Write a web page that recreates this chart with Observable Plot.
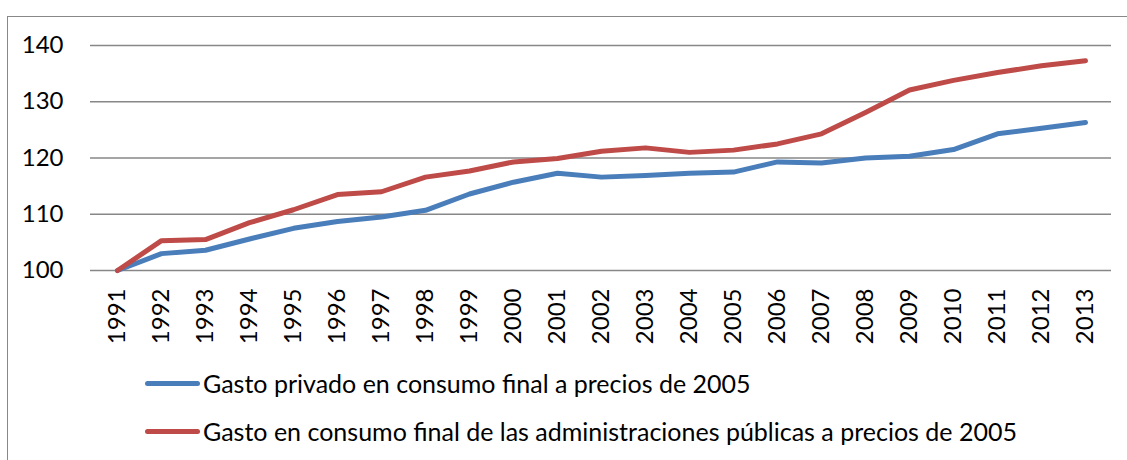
<!DOCTYPE html>
<html>
<head>
<meta charset="utf-8">
<script src="https://cdn.jsdelivr.net/npm/d3@7"></script>
<script src="https://cdn.jsdelivr.net/npm/@observablehq/plot@0.6"></script>
<style>
  html, body { margin: 0; padding: 0; background: #fff; }
  #wrap { position: relative; width: 1127px; height: 460px; overflow: hidden; font-family: Lato, "Open Sans", sans-serif; }
  #border { position: absolute; left: 7px; top: 16px; width: 1140px; height: 480px; border: 1.5px solid #888; box-sizing: border-box; }
  #chart { position: absolute; left: 0; top: 0; }
  #legend { position: absolute; left: 145px; top: 359px; }
  .item { display: flex; align-items: center; height: 48px; font-size: 25px; color: #000; }
  .sw { width: 55px; height: 5px; border-radius: 3px; margin-right: 3px; }
</style>
</head>
<body>
<div id="wrap">
  <div id="border"></div>
  <div id="chart"></div>
  <div id="legend"></div>
</div>
<script>
const years = ["1991","1992","1993","1994","1995","1996","1997","1998","1999","2000","2001","2002","2003","2004","2005","2006","2007","2008","2009","2010","2011","2012","2013"];
const privado = [100,103.0,103.6,105.6,107.5,108.7,109.5,110.7,113.6,115.7,117.3,116.6,116.9,117.3,117.5,119.3,119.1,120.0,120.3,121.5,124.3,125.3,126.3];
const publico = [100,105.3,105.5,108.5,110.8,113.5,114.0,116.6,117.7,119.3,119.9,121.2,121.8,121.0,121.4,122.5,124.3,128.1,132.1,133.8,135.2,136.4,137.3];
const seriesNames = ["Gasto privado en consumo final a precios de 2005", "Gasto en consumo final de las administraciones públicas a precios de 2005"];
const seriesColors = ["#4a7ebb", "#be4b48"];
const yTicks = [100,110,120,130,140];

const rows = [];
years.forEach((y, i) => {
  rows.push({year: y, value: privado[i], serie: seriesNames[0]});
  rows.push({year: y, value: publico[i], serie: seriesNames[1]});
});

const plot = Plot.plot({
  width: 1127,
  height: 345,
  marginLeft: 90,
  marginRight: 16,
  marginTop: 45,
  marginBottom: 75,
  style: {fontFamily: "Lato, 'Open Sans', sans-serif", fontSize: "24px", color: "#000", background: "transparent"},
  x: {type: "point", domain: years, padding: 0.5},
  y: {domain: [100, 140]},
  color: {domain: seriesNames, range: seriesColors},
  marks: [
    Plot.ruleY(yTicks, {stroke: "#878787", strokeWidth: 1.5, strokeOpacity: 1}),
    Plot.axisY({ticks: yTicks, tickSize: 0, tickPadding: 27, label: null, fontSize: 24}),
    Plot.axisX({tickSize: 0, tickPadding: 18, tickRotate: -90, label: null, fontSize: 24}),
    Plot.line(rows, {x: "year", y: "value", z: "serie", stroke: "serie", strokeWidth: 5, strokeLinecap: "round", strokeLinejoin: "round"})
  ]
});
document.getElementById("chart").appendChild(plot);

const legend = document.getElementById("legend");
seriesNames.forEach((name, i) => {
  const item = document.createElement("div");
  item.className = "item";
  const sw = document.createElement("div");
  sw.className = "sw";
  sw.style.background = seriesColors[i];
  const t = document.createElement("span");
  t.textContent = name;
  item.appendChild(sw);
  item.appendChild(t);
  legend.appendChild(item);
});
</script>
</body>
</html>
